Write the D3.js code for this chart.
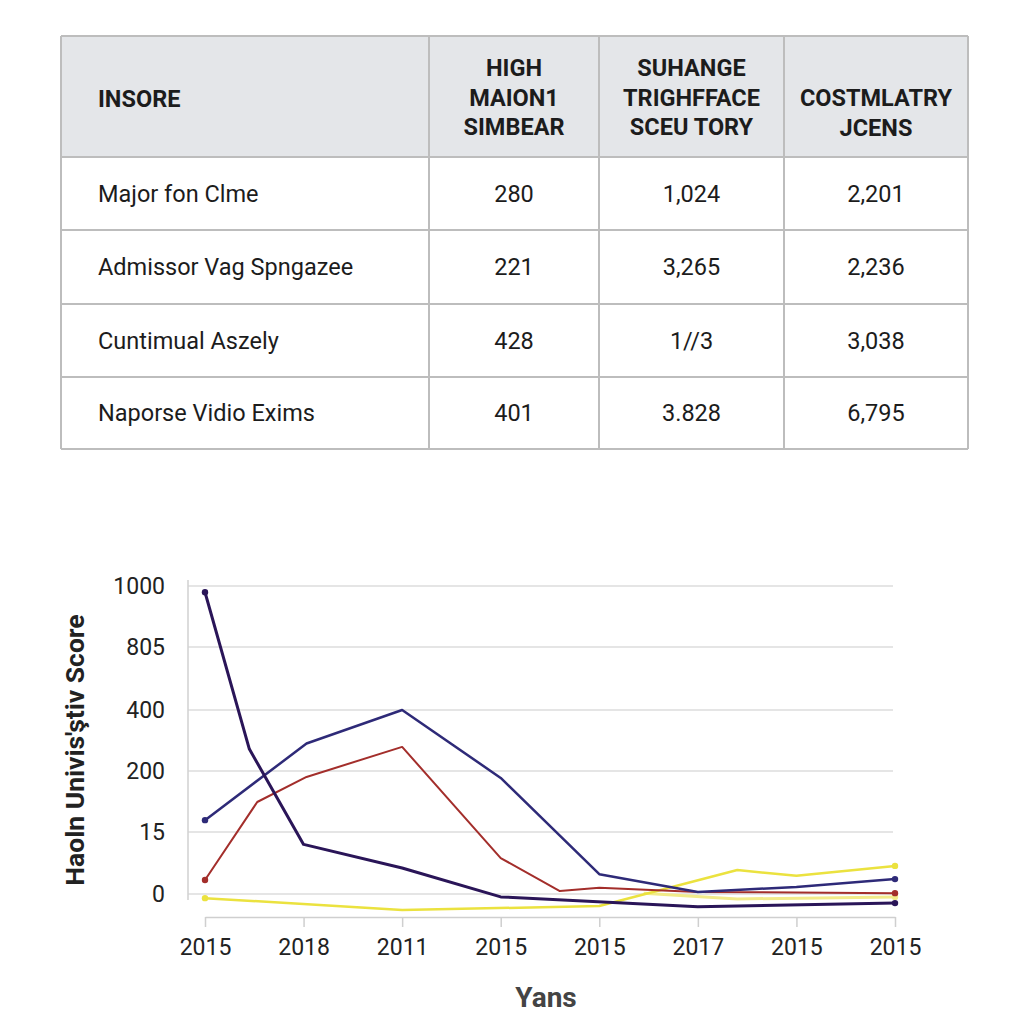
<!DOCTYPE html>
<html>
<head>
<meta charset="utf-8">
<script src="https://cdn.jsdelivr.net/npm/d3@7"></script>
<style>
  body { margin: 0; background: #fff; }
  svg { font-family: Roboto, "Noto Sans", sans-serif; }
</style>
</head>
<body>
<div id="viz"></div>
<script>
// table data
var tableHeader = [["INSORE"], ["HIGH", "MAION1", "SIMBEAR"], ["SUHANGE", "TRIGHFFACE", "SCEU TORY"], ["COSTMLATRY", "JCENS"]];
var rowNames = ["Major fon Clme", "Admissor Vag Spngazee", "Cuntimual Aszely", "Naporse Vidio Exims"];
var colHigh = ["280", "221", "428", "401"];
var colSuh = ["1,024", "3,265", "1//3", "3.828"];
var colCost = ["2,201", "2,236", "3,038", "6,795"];

// chart data
var xLabels = ["2015", "2018", "2011", "2015", "2015", "2017", "2015", "2015"];
var yTicks = [0, 15, 200, 400, 805, 1000];

var darkX = [0, 0.45, 1, 2, 3, 5, 7];
var darkY = [980, 272, 12, 6.3, -0.7, -3.1, -2.2];
var navyX = [0, 1.03, 2, 3, 4, 5, 6, 7];
var navyY = [51, 290, 400, 179, 4.8, 0.5, 1.7, 3.6];
var redX = [0, 0.53, 1.03, 2, 3, 3.6, 4, 5, 7];
var redY = [3.4, 106, 182, 279, 8.7, 0.7, 1.5, 0.5, 0.2];
var yellowX = [0, 2, 4, 5.4, 6, 7];
var yellowY = [-1, -3.9, -2.9, 5.8, 4.4, 6.8];
var paleX = [4.45, 5.4, 7];
var paleY = [0.2, -1.2, -0.7];

var svg = d3.select("#viz").append("svg")
    .attr("width", 1024)
    .attr("height", 1024);

// ---- table ----
var colEdges = [61, 429, 599, 784, 968];
var rowEdges = [36, 157, 230, 304, 377, 449];
var tbl = svg.append("g");

tbl.append("rect")
    .attr("x", colEdges[0]).attr("y", rowEdges[0])
    .attr("width", colEdges[4] - colEdges[0])
    .attr("height", rowEdges[1] - rowEdges[0])
    .attr("fill", "#e4e6e9");

rowEdges.forEach(function(r) {
    tbl.append("line")
        .attr("x1", colEdges[0]).attr("x2", colEdges[4])
        .attr("y1", r).attr("y2", r)
        .attr("stroke", "#bdbdbd").attr("stroke-width", 2);
});
colEdges.forEach(function(c) {
    tbl.append("line")
        .attr("x1", c).attr("x2", c)
        .attr("y1", rowEdges[0]).attr("y2", rowEdges[5])
        .attr("stroke", "#bdbdbd").attr("stroke-width", 2);
});

var colCenters = [0, 1, 2, 3].map(function(i) { return (colEdges[i] + colEdges[i + 1]) / 2; });

tableHeader.forEach(function(lines, i) {
    var midY = (rowEdges[0] + rowEdges[1]) / 2 + 2;
    var n = lines.length;
    lines.forEach(function(t, j) {
        var yy = i == 0 ? midY : (n == 3 ? 68 + j * 29.5 : 98 + j * 29.5);
        tbl.append("text")
            .attr("x", i == 0 ? 98 : colCenters[i])
            .attr("y", yy)
            .attr("dy", "0.35em")
            .attr("text-anchor", i == 0 ? "start" : "middle")
            .attr("font-size", 23.5)
            .attr("font-weight", "bold")
            .attr("fill", "#1c1c1c")
            .text(t);
    });
});

rowNames.forEach(function(name, r) {
    var cy = (rowEdges[r + 1] + rowEdges[r + 2]) / 2;
    var cells = [name, colHigh[r], colSuh[r], colCost[r]];
    cells.forEach(function(t, i) {
        tbl.append("text")
            .attr("x", i == 0 ? 98 : colCenters[i])
            .attr("y", cy)
            .attr("dy", "0.35em")
            .attr("text-anchor", i == 0 ? "start" : "middle")
            .attr("font-size", 23.5)
            .attr("fill", "#1c1c1c")
            .text(t);
    });
});

// ---- line chart ----
var x = d3.scaleLinear().domain([0, 7]).range([205, 895]);
var y = d3.scaleLinear().domain(yTicks).range([894, 832, 771, 710, 647, 586]);

var grid = svg.append("g");
yTicks.forEach(function(t) {
    grid.append("line")
        .attr("x1", 188).attr("x2", 893)
        .attr("y1", y(t)).attr("y2", y(t))
        .attr("stroke", "#dcdcdc").attr("stroke-width", 1.5);
});
grid.append("line")
    .attr("x1", 188).attr("x2", 188)
    .attr("y1", 580).attr("y2", 900)
    .attr("stroke", "#d0d0d0").attr("stroke-width", 1.5);

var yAxis = svg.append("g")
    .attr("transform", "translate(188,0)")
    .call(d3.axisLeft(y).tickValues(yTicks).tickFormat(d3.format("d")).tickSize(0).tickPadding(23));
yAxis.select(".domain").remove();
yAxis.selectAll("text").attr("font-size", 23).attr("fill", "#222").attr("font-family", "Roboto, sans-serif");

var xAxis = svg.append("g")
    .attr("transform", "translate(0,917)")
    .call(d3.axisBottom(x).tickValues(d3.range(8)).tickFormat(function(i) { return xLabels[i]; })
        .tickSize(10).tickSizeOuter(0).tickPadding(12));
xAxis.select(".domain").attr("stroke", "#cfcfcf").attr("stroke-width", 1.5);
xAxis.selectAll(".tick line").attr("stroke", "#cfcfcf").attr("stroke-width", 1.5);
xAxis.selectAll("text").attr("font-size", 23).attr("fill", "#222").attr("font-family", "Roboto, sans-serif");

var line = d3.line()
    .x(function(d) { return x(d[0]); })
    .y(function(d) { return y(d[1]); });

var series = [
    { xs: paleX, ys: paleY, color: "#f2eb8a", w: 3, dots: [2] },
    { xs: yellowX, ys: yellowY, color: "#ebe23f", w: 2.5, dots: [0, 5] },
    { xs: redX, ys: redY, color: "#a32e2b", w: 2, dots: [0, 8] },
    { xs: navyX, ys: navyY, color: "#2e2a78", w: 2.5, dots: [0, 7] },
    { xs: darkX, ys: darkY, color: "#2a1558", w: 3, dots: [0, 6] }
];

series.forEach(function(s) {
    var pts = s.xs.map(function(v, i) { return [v, s.ys[i]]; });
    svg.append("path")
        .datum(pts)
        .attr("fill", "none")
        .attr("stroke", s.color)
        .attr("stroke-width", s.w)
        .attr("stroke-linejoin", "round")
        .attr("d", line);
    svg.selectAll(null)
        .data(s.dots.map(function(i) { return pts[i]; }))
        .enter().append("circle")
        .attr("cx", function(d) { return x(d[0]); })
        .attr("cy", function(d) { return y(d[1]); })
        .attr("r", 3.2)
        .attr("fill", s.color);
});

svg.append("text")
    .attr("transform", "translate(75,750) rotate(-90)")
    .attr("text-anchor", "middle")
    .attr("dy", "0.35em")
    .attr("font-size", 26.5)
    .attr("font-weight", "bold")
    .attr("fill", "#222")
    .text("Haoln Univis'ştiv Score");

svg.append("text")
    .attr("x", 546)
    .attr("y", 997)
    .attr("text-anchor", "middle")
    .attr("dy", "0.35em")
    .attr("font-size", 28)
    .attr("font-weight", "bold")
    .attr("fill", "#444")
    .text("Yans");
</script>
</body>
</html>
